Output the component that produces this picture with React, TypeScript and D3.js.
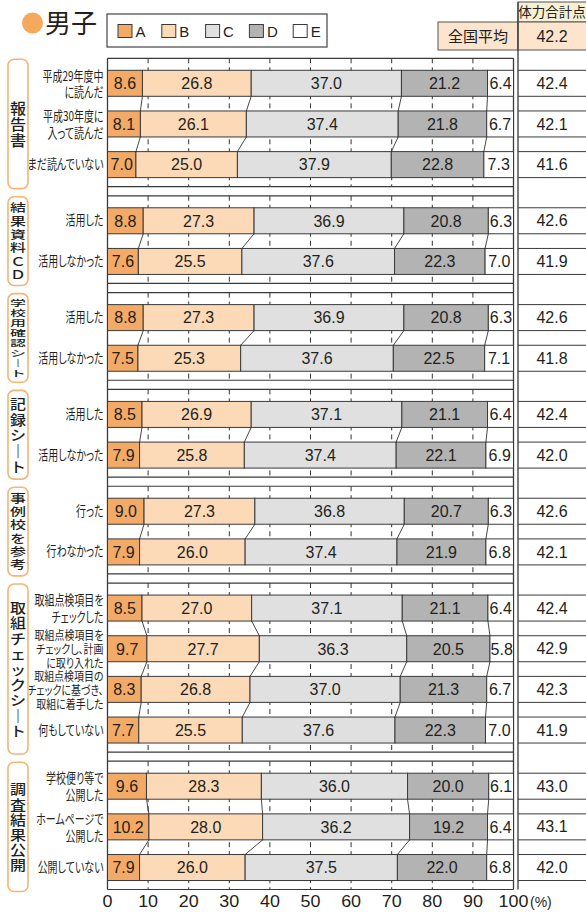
import React from 'react';
import * as d3 from 'd3';

const categories = ['A', 'B', 'C', 'D', 'E'];
const groupLabels = ['報告書', '結果資料ＣＤ', '学校用確認シート', '記録シート', '事例校を参考', '取組チェックシート', '調査結果公開'];
const groupSizes = [3, 2, 2, 2, 2, 4, 3];
const rowLabels: string[][] = [
  ['平成29年度中', 'に読んだ'],
  ['平成30年度に', '入って読んだ'],
  ['まだ読んでいない'],
  ['活用した'],
  ['活用しなかった'],
  ['活用した'],
  ['活用しなかった'],
  ['活用した'],
  ['活用しなかった'],
  ['行った'],
  ['行わなかった'],
  ['取組点検項目を', 'チェックした'],
  ['取組点検項目を', 'チェックし、計画', 'に取り入れた'],
  ['取組点検項目の', 'チェックに基づき、', '取組に着手した'],
  ['何もしていない'],
  ['学校便り等で', '公開した'],
  ['ホームページで', '公開した'],
  ['公開していない'],
];
const valuesA = [8.6, 8.1, 7.0, 8.8, 7.6, 8.8, 7.5, 8.5, 7.9, 9.0, 7.9, 8.5, 9.7, 8.3, 7.7, 9.6, 10.2, 7.9];
const valuesB = [26.8, 26.1, 25.0, 27.3, 25.5, 27.3, 25.3, 26.9, 25.8, 27.3, 26.0, 27.0, 27.7, 26.8, 25.5, 28.3, 28.0, 26.0];
const valuesC = [37.0, 37.4, 37.9, 36.9, 37.6, 36.9, 37.6, 37.1, 37.4, 36.8, 37.4, 37.1, 36.3, 37.0, 37.6, 36.0, 36.2, 37.5];
const valuesD = [21.2, 21.8, 22.8, 20.8, 22.3, 20.8, 22.5, 21.1, 22.1, 20.7, 21.9, 21.1, 20.5, 21.3, 22.3, 20.0, 19.2, 22.0];
const valuesE = [6.4, 6.7, 7.3, 6.3, 7.0, 6.3, 7.1, 6.4, 6.9, 6.3, 6.8, 6.4, 5.8, 6.7, 7.0, 6.1, 6.4, 6.8];
const totals = [42.4, 42.1, 41.6, 42.6, 41.9, 42.6, 41.8, 42.4, 42.0, 42.6, 42.1, 42.4, 42.9, 42.3, 41.9, 43.0, 43.1, 42.0];
const nationalAvg = 42.2;
const xTicks = [0, 10, 20, 30, 40, 50, 60, 70, 80, 90, 100];
const gridTicks = [10, 20, 30, 40, 50, 60, 70, 80, 90];

const colors = ['#f3aa66', '#fcd9b7', '#dfe0df', '#b3b3b3', '#ffffff'];
const ink = '#231f20';
const lineCol = '#3a3a3a';
const JP = '"Noto Sans CJK JP", sans-serif';
const NUM = '"Liberation Sans", Arial, "Noto Sans CJK JP", sans-serif';

const x = d3.scaleLinear().domain([0, 100]).range([107.5, 513.5]);

const firstCenter = 83.3;
const rowStep = 40.66;
const gapExtra = 15.5;
const barH = 26;
const labelSteps = [16, 13.4, 9.9, 15.6, 13.3, 15.4, 15.2];

const centers: number[] = [];
const groupRows: number[][] = [];
{
  let y = firstCenter;
  let idx = 0;
  groupSizes.forEach((n) => {
    const rows: number[] = [];
    for (let i = 0; i < n; i++) {
      centers.push(y);
      rows.push(idx);
      idx++;
      y += rowStep;
    }
    groupRows.push(rows);
    y += gapExtra;
  });
}

const series = [valuesA, valuesB, valuesC, valuesD, valuesE];
const cums = centers.map((_, i) => {
  const c = [0];
  series.forEach((s) => c.push(c[c.length - 1] + s[i]));
  c[5] = 100;
  return c;
});

const groupBoxes = groupRows.map((rows) => ({
  top: centers[rows[0]] - 25,
  bottom: centers[rows[rows.length - 1]] + 22,
}));

export default function App() {
  const plotTop = groupBoxes[0].top;
  const plotBottom = groupBoxes[groupBoxes.length - 1].bottom;
  return (
    <svg width={586} height={912} style={{ position: 'absolute', left: 0, top: 0, background: '#fff' }}>
      <circle cx={32.5} cy={23} r={10.5} fill="#f5a95c" />
      <text x={45} y={33} fontSize={26} fontFamily={JP} fill={ink}>男子</text>

      <rect x={107} y={14} width={220} height={33} fill="#fff" stroke="#444" strokeWidth={1.2} />
      {categories.map((c, i) => (
        <g key={c}>
          <rect x={118 + i * 43.8} y={24.5} width={14} height={13} fill={colors[i]} stroke={lineCol} strokeWidth={1} />
          <text x={135.5 + i * 43.8} y={37} fontSize={15} fontFamily={NUM} fill={ink}>{c}</text>
        </g>
      ))}

      <rect x={518} y={2} width={70} height={20} fill="#f6f1d4" stroke="#555" strokeWidth={1} />
      <text x={552} y={16.5} fontSize={13.5} fontFamily={JP} fill={ink} textAnchor="middle">体力合計点</text>
      <rect x={438} y={22} width={80} height={28} fill="#fde4cd" stroke="#555" strokeWidth={1} />
      <rect x={518} y={22} width={70} height={28} fill="#fde4cd" stroke="#555" strokeWidth={1} />
      <text x={478} y={41.5} fontSize={15} fontFamily={JP} fill={ink} textAnchor="middle">全国平均</text>
      <text x={552} y={41.5} fontSize={16} fontFamily={NUM} fill={ink} textAnchor="middle">{nationalAvg.toFixed(1)}</text>

      {groupBoxes.map((b, gi) => (
        <g key={'gb' + gi}>
          {gridTicks.map((t) => (
            <line key={t} x1={x(t)} x2={x(t)} y1={b.top} y2={b.bottom} stroke="#333" strokeWidth={1} strokeDasharray="5,4" />
          ))}
          <line x1={x(0)} x2={x(100)} y1={b.top} y2={b.top} stroke={lineCol} strokeWidth={1.2} />
          <line x1={x(0)} x2={x(100)} y1={b.bottom} y2={b.bottom} stroke={lineCol} strokeWidth={1.2} />
        </g>
      ))}
      <line x1={x(0)} x2={x(0)} y1={plotTop} y2={plotBottom} stroke={lineCol} strokeWidth={1.3} />
      <line x1={x(100)} x2={x(100)} y1={plotTop} y2={plotBottom} stroke={lineCol} strokeWidth={1.3} />
      <line x1={518} x2={518} y1={2} y2={plotBottom} stroke={lineCol} strokeWidth={1.3} />

      {centers.map((cy, i) => (
        <g key={'bar' + i}>
          {series.map((s, k) => {
            const x0 = x(cums[i][k]);
            const x1 = x(cums[i][k + 1]);
            return (
              <g key={k}>
                <rect x={x0} y={cy - barH / 2} width={x1 - x0} height={barH} fill={colors[k]} stroke={lineCol} strokeWidth={1} />
                <text x={(x0 + x1) / 2} y={cy + 5.8} fontSize={16} fontFamily={NUM} fill={ink} textAnchor="middle">{s[i].toFixed(1)}</text>
              </g>
            );
          })}
          <line x1={518} x2={586} y1={cy - barH / 2} y2={cy - barH / 2} stroke={lineCol} strokeWidth={1} />
          <line x1={518} x2={586} y1={cy + barH / 2} y2={cy + barH / 2} stroke={lineCol} strokeWidth={1} />
          <text x={552} y={cy + 5.6} fontSize={16} fontFamily={NUM} fill={ink} textAnchor="middle">{totals[i].toFixed(1)}</text>
          <g transform={`translate(103.5, ${cy})`}>
            {rowLabels[i].map((ln, j) => {
              const n = rowLabels[i].length;
              const three = n === 3;
              const lh = three ? 14 : 16.5;
              const fs = three ? 12 : 13.3;
              const sx = three ? 0.83 : 0.75;
              const dy = (j - (n - 1) / 2) * lh + 4.5 + (n > 1 ? 1 : 0);
              return (
                <text key={j} transform={`translate(0, ${dy}) scale(${sx}, 1)`} fontSize={fs} fontFamily={JP} fill={ink} textAnchor="end" style={{ fontFeatureSettings: '"palt"' }}>{ln}</text>
              );
            })}
          </g>
        </g>
      ))}

      {groupRows.map((rows) =>
        rows.slice(0, -1).map((r) => (
          <g key={'c' + r}>
            {[1, 2, 3, 4].map((k) => (
              <line key={k} x1={x(cums[r][k])} y1={centers[r] + barH / 2} x2={x(cums[r + 1][k])} y2={centers[r + 1] - barH / 2} stroke="#333" strokeWidth={0.9} />
            ))}
          </g>
        ))
      )}

      {groupBoxes.map((b, gi) => {
        const chars = Array.from(groupLabels[gi]).map((c) => (c === 'ー' ? '｜' : c));
        const mid = (b.top + b.bottom + 2) / 2;
        const step = labelSteps[gi];
        const vs = Math.min(1, (step - 1.5) / 16);
        return (
          <g key={'gl' + gi}>
            <rect x={8} y={b.top + 1} width={20} height={b.bottom - b.top + 1} rx={6} fill="#fff" stroke="#f6b475" strokeWidth={1.6} />
            {chars.map((c, j) => {
              const cy = mid + (j - (chars.length - 1) / 2) * step;
              return (
                <text key={j} transform={`translate(18, ${cy}) scale(1, ${vs})`} fontSize={16} fontFamily={JP} fontWeight={500} fill={ink} textAnchor="middle" dominantBaseline="central">{c}</text>
              );
            })}
          </g>
        );
      })}

      {xTicks.map((t) => (
        <text key={t} transform={`translate(${x(t)}, 907) scale(1.12, 1)`} fontSize={16} fontFamily={NUM} fill={ink} textAnchor="middle">{t}</text>
      ))}
      <text x={530} y={907} fontSize={14} fontFamily={NUM} fill={ink}>(%)</text>
    </svg>
  );
}
